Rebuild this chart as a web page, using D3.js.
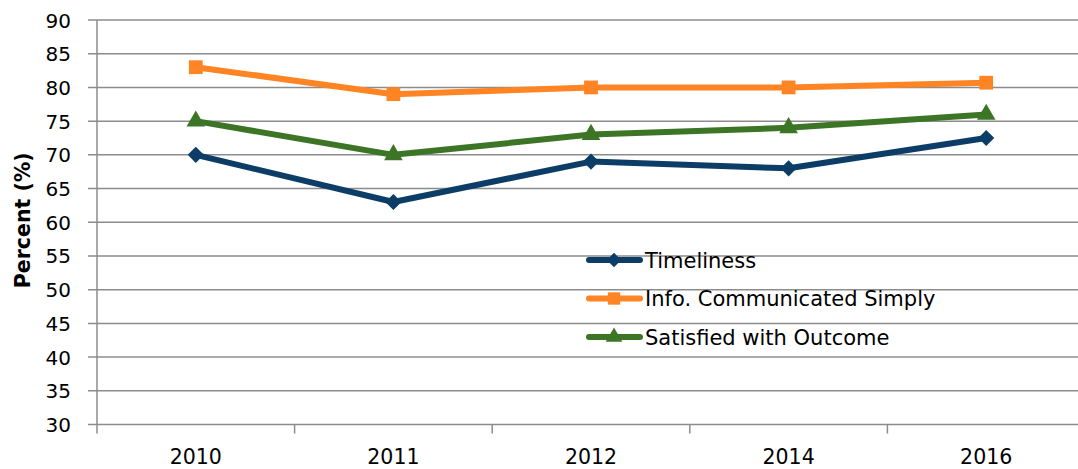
<html>
<head>
    <title>Percent chart</title>
    <script src="https://d3js.org/d3.v7.min.js"></script>
    <style>
        body { margin: 0; background: #fff; }
        text { font-family: "DejaVu Sans", sans-serif; fill: #000; }
    </style>
</head>
<body>
    <script>
        const years = ['2010', '2011', '2012', '2014', '2016']
        const timeliness = [70, 63, 69, 68, 72.5]
        const infoSimply = [83, 79, 80, 80, 80.7]
        const satisfied = [75, 70, 73, 74, 76]
        const yTicks = [30, 35, 40, 45, 50, 55, 60, 65, 70, 75, 80, 85, 90]
        const seriesNames = ['Timeliness', 'Info. Communicated Simply', 'Satisfied with Outcome']

        const series = [
            { name: seriesNames[0], values: timeliness, color: '#0c3d66', marker: d3.symbolSquare, rot: 45, size: 130 },
            { name: seriesNames[1], values: infoSimply, color: '#ff8424', marker: d3.symbolSquare, rot: 0, size: 190 },
            { name: seriesNames[2], values: satisfied, color: '#3c7526', marker: d3.symbolTriangle, rot: 0, size: 150 }
        ]

        const width = 1078, height = 469
        const plotLeft = 97, plotRight = 1085, plotTop = 20, plotBottom = 424.5

        const svg = d3.select('body').append('svg')
            .attr('width', width)
            .attr('height', height)

        const x = d3.scaleBand()
            .domain(years)
            .range([plotLeft, plotRight])

        const y = d3.scaleLinear()
            .domain([30, 90])
            .range([plotBottom, plotTop])

        // horizontal grid + left ticks
        svg.append('g').selectAll('line')
            .data(yTicks)
            .enter().append('line')
            .attr('x1', plotLeft - 9)
            .attr('x2', width)
            .attr('y1', d => y(d))
            .attr('y2', d => y(d))
            .attr('stroke', '#8c8c8c')
            .attr('stroke-width', 1.5)

        svg.append('g').selectAll('text')
            .data(yTicks)
            .enter().append('text')
            .attr('x', 71)
            .attr('y', d => y(d) + 7.5)
            .attr('text-anchor', 'end')
            .attr('font-size', 20)
            .text(d => d)

        // y axis line
        svg.append('line')
            .attr('x1', plotLeft).attr('x2', plotLeft)
            .attr('y1', plotTop).attr('y2', plotBottom + 9)
            .attr('stroke', '#8c8c8c')
            .attr('stroke-width', 1.5)

        // category ticks between years
        svg.append('g').selectAll('line')
            .data(years.slice(1))
            .enter().append('line')
            .attr('x1', d => x(d)).attr('x2', d => x(d))
            .attr('y1', plotBottom).attr('y2', plotBottom + 9)
            .attr('stroke', '#8c8c8c')
            .attr('stroke-width', 1.5)

        svg.append('g').selectAll('text')
            .data(years)
            .enter().append('text')
            .attr('x', d => x(d) + x.bandwidth() / 2)
            .attr('y', 464)
            .attr('text-anchor', 'middle')
            .attr('font-size', 20.5)
            .text(d => d)

        svg.append('text')
            .attr('transform', 'translate(30,' + ((plotTop + plotBottom) / 2 - 2) + ') rotate(-90)')
            .attr('text-anchor', 'middle')
            .attr('font-family', '"Open Sans", sans-serif')
            .attr('font-size', 20.5)
            .attr('font-weight', 'bold')
            .text('Percent (%)')

        const line = d3.line()
            .x((d, i) => x(years[i]) + x.bandwidth() / 2)
            .y(d => y(d))

        series.forEach(s => {
            const g = svg.append('g')
            g.append('path')
                .datum(s.values)
                .attr('d', line)
                .attr('fill', 'none')
                .attr('stroke', s.color)
                .attr('stroke-width', 6)
                .attr('stroke-linejoin', 'round')
            g.selectAll('path.m')
                .data(s.values)
                .enter().append('path')
                .attr('class', 'm')
                .attr('d', d3.symbol().type(s.marker).size(s.size))
                .attr('transform', (d, i) => 'translate(' + (x(years[i]) + x.bandwidth() / 2) + ',' + y(d) + ') rotate(' + s.rot + ')')
                .attr('fill', s.color)
        })

        // legend
        const legend = svg.append('g')
        series.forEach((s, i) => {
            const ly = 260 + i * 38.5
            legend.append('line')
                .attr('x1', 589).attr('x2', 640)
                .attr('y1', ly).attr('y2', ly)
                .attr('stroke', s.color)
                .attr('stroke-width', 6)
                .attr('stroke-linecap', 'round')
            legend.append('path')
                .attr('d', d3.symbol().type(s.marker).size(s.size * 0.8))
                .attr('transform', 'translate(614,' + ly + ') rotate(' + s.rot + ')')
                .attr('fill', s.color)
            legend.append('text')
                .attr('x', 645)
                .attr('y', ly + 7.5)
                .attr('font-size', 21)
                .text(s.name)
        })
    </script>
</body>
</html>
